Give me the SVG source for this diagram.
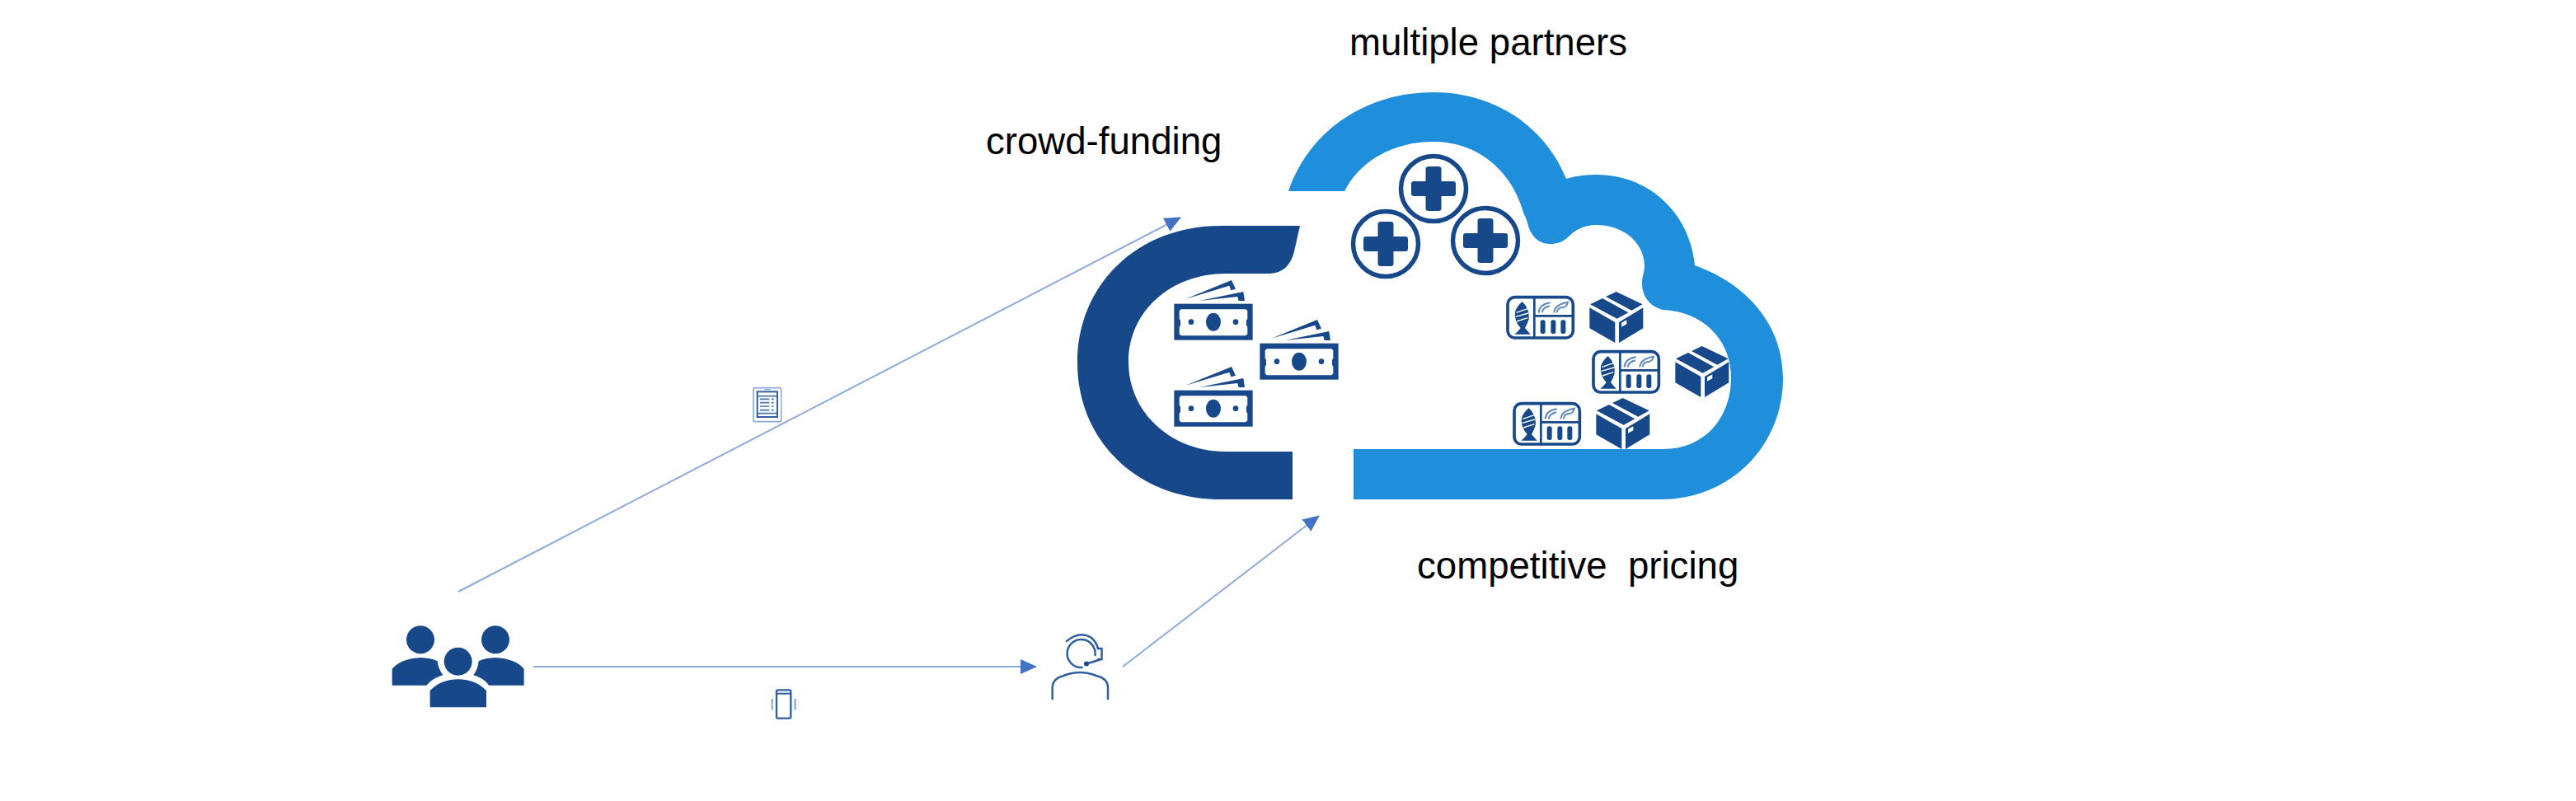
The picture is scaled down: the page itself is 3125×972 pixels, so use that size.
<svg xmlns="http://www.w3.org/2000/svg" width="3125" height="972" viewBox="0 0 3125 972">
<style>
.t{font-family:"Liberation Sans",Arial,sans-serif;font-size:45.6px;fill:#000;white-space:pre}
.d{fill:#17498A}
.w{fill:#fff}
.c{stroke:#8FAADC;stroke-width:2;fill:none;marker-end:url(#a)}
.ag{fill:none;stroke:#2F5F9E;stroke-width:2.5;stroke-linecap:round}
</style>
<defs>
<marker id="a" markerUnits="userSpaceOnUse" markerWidth="20" markerHeight="18" refX="19" refY="9" orient="auto"><path d="M0 0L20 9L0 18Z" fill="#4472C4"/></marker>
<g id="plus">
<circle r="39.5" fill="#fff" stroke="#17498A" stroke-width="5.500"/>
<path class="d" d="M-6 -27H6Q9.500 -27 9.500 -24V-9H24Q27 -9 27 -6V6Q27 9 24 9H9.500V24Q9.500 27 6 27H-6Q-9.500 27 -9.500 24V9H-24Q-27 9 -27 6V-6Q-27 -9 -24 -9H-9.500V-24Q-9.500 -27 -6 -27Z"/>
</g>
<g id="bill" transform="scale(.3333)">
<rect class="d" x="13" y="116" width="286" height="132"/>
<path class="w" d="M38 136H274L280 142V170L276 176V194L280 200V226L274 232H38L32 226V200L36 194V176L32 170V142Z"/>
<ellipse class="d" cx="156" cy="182" rx="27" ry="33"/>
<circle class="d" cx="75" cy="182" r="10"/>
<circle class="d" cx="237" cy="182" r="10"/>
<path class="d" d="M55 98L222 30L237 62L220 67L214 50Z"/>
<path class="d" d="M105 105L265 72L270 105H248L244 90Z"/>
</g>
<g id="tray" transform="scale(.3333)">
<rect x="27" y="62" width="238" height="148" rx="26" fill="#fff" stroke="#17498A" stroke-width="11"/>
<path d="M124 62V210M124 130H265" stroke="#17498A" stroke-width="8" fill="none"/>
<path class="d" d="M80 78Q108 105 104 142Q98 162 90 174Q100 186 110 197H52Q66 186 74 174Q50 150 54 115Q60 95 80 78Z"/>
<path d="M58 118L100 104M56 133L102 120M60 150L100 137" stroke="#fff" stroke-width="4" fill="none"/>
<path d="M140 118Q142 88 182 82M152 118Q154 100 180 94" stroke="#5F8ABB" stroke-width="6" fill="none"/>
<path d="M196 118Q198 88 246 80Q242 100 222 100Q208 102 206 118" stroke="#5F8ABB" stroke-width="6" fill="none"/>
<rect class="d" x="146" y="145" width="18" height="50" rx="8"/>
<rect class="d" x="184" y="145" width="18" height="50" rx="8"/>
<rect class="d" x="220" y="145" width="18" height="50" rx="8"/>
</g>
<g id="box" transform="scale(.3333)">
<path class="d" d="M422 42L518 88L478 110L384 60Z"/>
<path class="d" d="M327 88L372 66L466 118L425 140Z"/>
<path class="d" d="M325 100L418 153V228L325 175Z"/>
<path class="d" d="M432 153L520 100V175L432 228Z"/>
<path class="w" d="M441 155L460 145V160L441 170Z"/>
</g>
</defs>
<g id="connectors">
<path class="c" d="M556 718L1432 264"/>
<path class="c" d="M647 809H1257"/>
<path class="c" d="M1362 809L1600 626"/>
</g>
<g id="cloud-left">
<path class="d" d="M1577 274H1481C1380 274 1307 345 1307 440C1307 535 1380 606 1481 606H1568V548H1487C1420 548 1369 500 1369 439C1369 378 1420 332 1487 332H1538C1556 332 1566 322 1570 305Z"/>
</g>
<g id="cloud-right">
<path fill="#1F8EDB" d="M1563 232C1590 155 1660 112 1739 112C1815 112 1875 155 1900 217C1912 213 1926 212 1940 212C2005 214 2050 262 2056 322C2120 345 2163 395 2163 459C2163 540 2100 606 2015 606H1642V545H2018C2065 545 2100 510 2100 458C2100 412 2065 378 2018 376C2000 372 1992 358 1992 344C1992 335 1995 330 1995 323C1995 295 1970 273 1937 273C1920 273 1910 280 1903 287C1896 294 1888 296 1880 296C1866 296 1856 285 1853 270C1851 264 1850 262 1848 258C1835 210 1795 172 1739 172C1690 172 1650 195 1631 232Z"/>
</g>
<g id="partners">
<use href="#plus" x="1739" y="229"/>
<use href="#plus" x="1681" y="296"/>
<use href="#plus" x="1802" y="292"/>
</g>
<g id="money">
<use href="#bill" x="1420" y="330"/>
<use href="#bill" x="1524" y="378"/>
<use href="#bill" x="1420" y="435"/>
</g>
<g id="goods">
<use href="#tray" x="1820" y="340"/>
<use href="#box" x="1820" y="340"/>
<use href="#tray" x="1924" y="406"/>
<use href="#box" x="1924" y="406"/>
<use href="#tray" x="1828" y="469"/>
<use href="#box" x="1828" y="469"/>
</g>
<g id="customers" transform="translate(440 700) scale(.3333)">
<circle class="d" cx="210" cy="229" r="51"/>
<circle class="d" cx="483" cy="229" r="51"/>
<circle class="d" cx="347" cy="308" r="51"/>
<path class="d" d="M245 475V415Q280 375 347 373Q415 375 450 415V475Z"/>
<path class="d" d="M107 395V335Q140 297 210 294Q250 295 272 307Q275 335 292 358Q255 368 232 395Z"/>
<path class="d" d="M587 395V335Q555 297 483 294Q445 295 422 307Q420 335 403 358Q440 368 460 395Z"/>
</g>
<g id="agent" transform="translate(1240 740)">
<path class="ag" d="M36.700 108V93Q38 83 50 80Q70 72 90 80Q103 83 104 93V108"/>
<path class="ag" d="M72.500 70A17 17 0 1 1 88.500 55"/>
<path class="ag" d="M54 38Q70 25 84 34Q90 39 92 47"/>
<path class="ag" d="M92 47H96.500V60H92M96 60L78 65.500"/>
<circle cx="78" cy="65.500" r="3" fill="#17498A"/>
</g>
<g id="tablet" transform="translate(900 450) scale(.3333)">
<rect x="42" y="62" width="101" height="123" rx="6" fill="#fff" stroke="#8FAADC" stroke-width="5"/>
<rect x="56" y="76" width="73" height="92" fill="#fff" stroke="#2F5F9E" stroke-width="6"/>
<path d="M56 92H129M66 103H100M66 116H100M66 129H100M66 143H100M108 103H116M108 116H116M108 129H116M108 143H116M56 155H129" stroke="#4A76AE" stroke-width="5" fill="none"/>
<path d="M82 68H104" stroke="#8FAADC" stroke-width="4"/>
</g>
<g id="phone" transform="translate(920 820) scale(.3333)">
<rect x="66" y="52" width="52" height="103" rx="4" fill="#fff" stroke="#2F5F9E" stroke-width="7"/>
<path d="M66 65H118" stroke="#2F5F9E" stroke-width="6"/>
<path d="M52 84Q46 90 52 96Q46 104 52 112Q46 118 52 124M132 84Q138 90 132 96Q138 104 132 112Q138 118 132 124" stroke="#6E93BF" stroke-width="4.500" fill="none"/>
</g>
<text class="t" x="1196" y="187">crowd-funding</text>
<text class="t" x="1637" y="67">multiple partners</text>
<text class="t" x="1719" y="702" xml:space="preserve">competitive  pricing</text>
</svg>
